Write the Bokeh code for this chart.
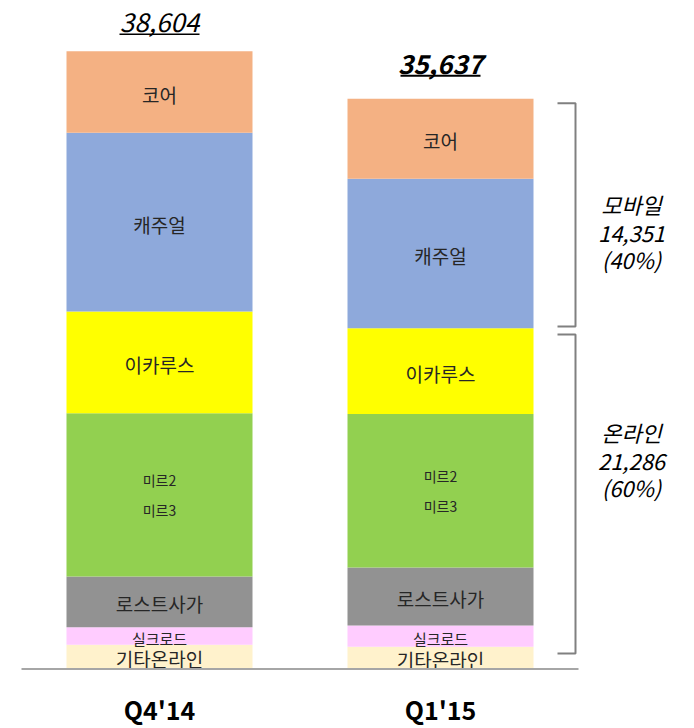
from bokeh.plotting import figure
from bokeh.models import ColumnDataSource, Range1d
from bokeh.core.properties import value
from bokeh.embed import file_html
from bokeh.resources import INLINE

# ---------------- data ----------------
quarters = ["Q4'14", "Q1'15"]
segments = ["기타온라인", "실크로드", "로스트사가", "미르", "이카루스", "캐주얼", "코어"]  # bottom -> top
segment_labels = ["기타온라인", "실크로드", "로스트사가", "미르2\n미르3", "이카루스", "캐주얼", "코어"]
q4_values = [1512, 1100, 3168, 10203, 6355, 11167, 5099]
q1_values = [1387, 1331, 3623, 9590, 5355, 9352, 4999]
total_labels = ["38,604", "35,637"]
group_names = ["모바일", "온라인"]
group_values = ["14,351", "21,286"]
group_shares = ["(40%)", "(60%)"]
mobile_segments = ["캐주얼", "코어"]

colors = ["#FFF2CC", "#FFCCFF", "#929292", "#92D050", "#FFFF00", "#8EA9DB", "#F4B183"]
label_sizes = ["19px", "15px", "19px", "14px", "19px", "19px", "19px"]

FONT = "Noto Sans CJK KR"

# ---------------- figure ----------------
W, H = 694, 728
PX_PER_BAR = 281.0          # pixels between bar centres
UNITS_PER_PX = 62.49        # value units per pixel
LEFT_PX = 159.0             # first bar centre from left edge
BASE_PX = 668.5             # baseline from top edge

x_start = -LEFT_PX / PX_PER_BAR
x_end = (W - LEFT_PX) / PX_PER_BAR
y_end = BASE_PX * UNITS_PER_PX
y_start = -(H - BASE_PX) * UNITS_PER_PX

p = figure(width=W, height=H, output_backend="svg", toolbar_location=None,
           x_range=Range1d(x_start, x_end), y_range=Range1d(y_start, y_end),
           min_border=0)
p.outline_line_color = None
p.xgrid.visible = False
p.ygrid.visible = False
p.xaxis.visible = False
p.yaxis.visible = False
p.background_fill_color = "white"
p.border_fill_color = "white"

px_y = UNITS_PER_PX
px_x = 1.0 / PX_PER_BAR

bar_x = [0, 1]
bar_w = 186 * px_x

# stacked bars
all_vals = [q4_values, q1_values]
for xi, vals in zip(bar_x, all_vals):
    bottoms, tops = [], []
    acc = 0
    for v in vals:
        bottoms.append(acc)
        acc += v
        tops.append(acc)
    mids = [(b + t) / 2 for b, t in zip(bottoms, tops)]
    src = ColumnDataSource(dict(x=[xi] * len(vals), bottom=bottoms, top=tops,
                                color=colors, seg=segments))
    p.vbar(x="x", width=bar_w, bottom="bottom", top="top", source=src,
           fill_color="color", line_color=None)
    single = [i for i, l in enumerate(segment_labels) if "\n" not in l]
    s1 = ColumnDataSource(dict(x=[xi] * len(single),
                               y=[mids[i] for i in single],
                               t=[segment_labels[i] for i in single],
                               s=[label_sizes[i] for i in single]))
    p.text(x="x", y="y", text="t", source=s1, text_font=value(FONT),
           text_font_size="s", text_color="#262626", text_align="center",
           text_baseline="middle", y_offset=2)
    multi = [i for i, l in enumerate(segment_labels) if "\n" in l]
    s2 = ColumnDataSource(dict(x=[xi] * len(multi),
                               y=[mids[i] for i in multi],
                               t=[segment_labels[i] for i in multi]))
    p.text(x="x", y="y", text="t", source=s2, text_font=value(FONT),
           text_font_size="14px", text_color="#262626", text_align="center",
           text_baseline="middle", text_line_height=1.5)

# totals with underline
totals = [sum(q4_values), sum(q1_values)]
total_off = [-29, -35]
total_style = ["italic", "bold italic"]
for xi, tot, lab, off, sty in zip(bar_x, totals, total_labels, total_off, total_style):
    p.text(x=[xi], y=[tot], text=[lab], text_font=value(FONT), text_font_size="26px",
           text_font_style=sty, text_color="#000000", text_align="center",
           text_baseline="middle", y_offset=off)
    uy = tot + (-off - 12) * px_y
    p.segment(x0=[xi - 40 * px_x], x1=[xi + 40 * px_x], y0=[uy], y1=[uy],
              line_color="#000000", line_width=1.5 if "bold" not in sty else 2)

# baseline
p.segment(x0=[x_start + 21 * px_x], x1=[bar_x[1] + 138 * px_x], y0=[0], y1=[0],
          line_color="#A6A6A6", line_width=2)

# quarter labels
p.text(x=bar_x, y=[0, 0], text=quarters, text_font=value(FONT), text_font_size="25px",
       text_font_style="bold", text_color="#000000", text_align="center",
       text_baseline="middle", y_offset=40)

# brackets for Q1'15
mobile_val = sum(v for s, v in zip(segments, q1_values) if s in mobile_segments)
online_val = sum(v for s, v in zip(segments, q1_values) if s not in mobile_segments)
bx0 = bar_x[1] + 117 * px_x
bx1 = bar_x[1] + 135 * px_x
brackets = [
    (online_val + mobile_val - 290, online_val + 120),
    (online_val - 380, q1_values[0] * 0.7),
]
for top, bot in brackets:
    p.line(x=[bx0, bx1, bx1, bx0], y=[top, top, bot, bot],
           line_color="#808080", line_width=2)

# group texts
g_y = [online_val + mobile_val * 0.42, online_val * 0.615]
for gy, n, v, sh in zip(g_y, group_names, group_values, group_shares):
    p.text(x=[bar_x[1] + 191 * px_x], y=[gy], text=[n + "\n" + v + "\n" + sh],
           text_font=value(FONT), text_font_size="22px", text_font_style="italic",
           text_color="#000000", text_align="center", text_baseline="middle",
           text_line_height=0.86)

open("out.html", "w").write(file_html(p, INLINE))
